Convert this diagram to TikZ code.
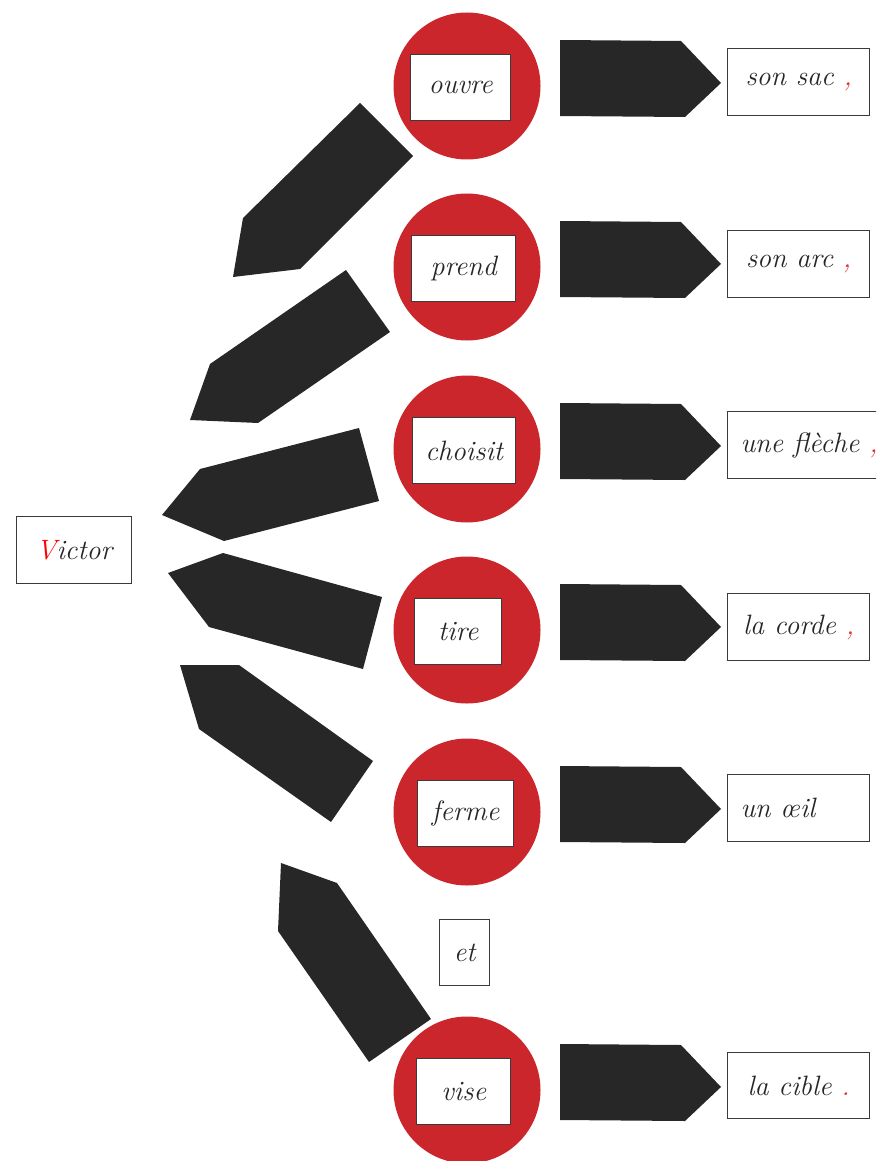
\documentclass[tikz,border=0pt]{standalone}
\usepackage{fontspec}
\begin{document}
\begin{tikzpicture}[x=1pt,y=-1pt,
  every node/.style={font=\fontsize{28}{32}\selectfont\itshape, text=inkgray},
  verbdisc/.style={circle, fill=discred, minimum size=147pt, inner sep=0pt},
  wordbox/.style={draw=boxline, line width=1.4pt, fill=white, inner sep=0pt, anchor=north west},
  bigarrow/.style={fill=arrowgray}]
\definecolor{discred}{HTML}{CB262B}
\definecolor{arrowgray}{HTML}{272727}
\definecolor{boxline}{HTML}{3A3A3A}
\definecolor{inkgray}{HTML}{262626}
\definecolor{markred}{HTML}{E8282A}
\useasboundingbox (0,0) rectangle (876,1161);
\clip (0,0) rectangle (876,1161);

% subject
\node[wordbox, minimum width=115pt, minimum height=67pt] (victor) at (16,516) {};
\node at (victor.center) {\textcolor{red}{V}ictor};

% arrows pointing back to the subject
\fill[bigarrow] (360,103) -- (413,156) -- (300,269) -- (233,277) -- (243,218) -- cycle;
\fill[bigarrow] (346,270) -- (390,332) -- (258,423) -- (190,420) -- (210,364) -- cycle;
\fill[bigarrow] (359,428) -- (379,501) -- (224,541) -- (162,515) -- (200,469) -- cycle;
\fill[bigarrow] (382,597) -- (363,669) -- (209,627) -- (168,573) -- (223,553) -- cycle;
\fill[bigarrow] (373,761) -- (331,822) -- (199,729) -- (180,665) -- (239,665) -- cycle;
\fill[bigarrow] (431,1019) -- (369,1062) -- (278,931) -- (281,863) -- (337,883) -- cycle;

% verb discs with their words
\foreach \nm/\cy/\bx/\bw/\txt in {ouvre/86/410/100/ouvre, prend/267/411/104/prend,
    choisit/449/412/103/choisit, tire/630/414/87/tire, ferme/812/417/96/ferme,
    vise/1090/416/94/vise}{
  \node[verbdisc] (disc-\nm) at (467,\cy) {};
  \node[wordbox, minimum width=\bw pt, minimum height=66pt] (verb-\nm) at (\bx,\cy-32) {};
  \node at (verb-\nm.center) {\txt};
  % arrow towards the complement
  \fill[bigarrow] (560,\cy-46) -- (681,\cy-45) -- (721,\cy-3) -- (685,\cy+31) -- (560,\cy+30) -- cycle;
}

% conjunction
\node[wordbox, minimum width=50pt, minimum height=66pt] (et) at (439,919) {};
\node at (et.center) {et};

% complements
\node[wordbox, minimum width=142pt, minimum height=67pt] (c1) at (727,48) {};
\node at (c1.center) {son sac \textcolor{markred}{,}};
\node[wordbox, minimum width=142pt, minimum height=67pt] (c2) at (727,230) {};
\node at (c2.center) {son arc \textcolor{markred}{,}};
\node[wordbox, minimum width=170pt, minimum height=67pt] (c3) at (727,411) {};
\node[anchor=west] at ([xshift=10pt]c3.west) {une flèche \textcolor{markred}{,}};
\node[wordbox, minimum width=142pt, minimum height=67pt] (c4) at (727,593) {};
\node at (c4.center) {la corde \textcolor{markred}{,}};
\node[wordbox, minimum width=142pt, minimum height=67pt] (c5) at (727,774) {};
\node[anchor=west] at ([xshift=10pt]c5.west) {un œil};
\node[wordbox, minimum width=142pt, minimum height=66pt] (c6) at (727,1052) {};
\node at (c6.center) {la cible \textcolor{markred}{.}};
\end{tikzpicture}
\end{document}
